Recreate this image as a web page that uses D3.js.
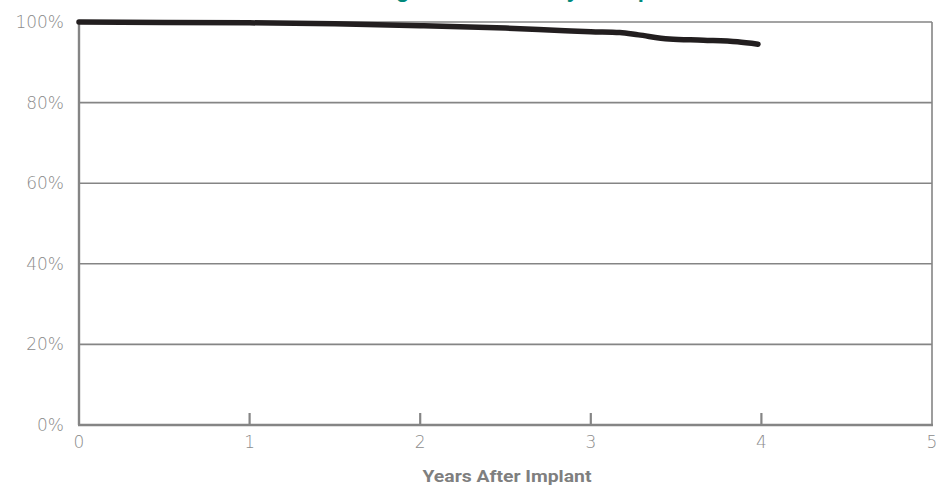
<!DOCTYPE html>
<html>
<head>
<meta charset="utf-8">
<script src="https://cdn.jsdelivr.net/npm/d3@7"></script>
<style>
  html, body { margin: 0; padding: 0; background: #ffffff; }
  svg { display: block; }
</style>
</head>
<body>
<svg id="chart" width="941" height="489"></svg>
<script>
// ---- Data ----
const titleText = "Long-Term Reliability of Implanted Leads";
const xTickValues = [0, 1, 2, 3, 4, 5];
const yTickValues = [0, 20, 40, 60, 80, 100];
const xAxisTitle = "Years After Implant";
const years = [0, 0.5, 1.0, 1.5, 2.0, 2.5, 2.85, 3.0, 3.17, 3.28, 3.46, 3.66, 3.86, 3.98];
const survival = [100, 99.9, 99.8, 99.55, 99.1, 98.5, 97.85, 97.6, 97.4, 96.8, 95.8, 95.5, 95.1, 94.5];

// ---- Layout ----
const svg = d3.select("#chart");
const plotLeft = 79, plotRight = 932, plotTop = 22, plotBottom = 425;
const x = d3.scaleLinear().domain([0, 5]).range([plotLeft, plotRight]);
const y = d3.scaleLinear().domain([0, 100]).range([plotBottom, plotTop]);

const axisColor = "#858585";
const labelColor = "#8c8c8c";
const labelFont = "'DejaVu Sans', 'Open Sans', sans-serif";

// Title (mostly cut off at the top of the frame, as in the reference)
const title = svg.append("text")
  .attr("x", 0).attr("y", -3.5)
  .attr("fill", "#00897b")
  .attr("font-family", "'Liberation Sans', Arial, sans-serif")
  .attr("font-weight", "bold")
  .attr("font-size", 22)
  .text(titleText);
const gx = title.node().getStartPositionOfChar(3).x;
title.attr("x", 396 - gx);

// Gridlines
svg.append("g").selectAll("line")
  .data(yTickValues.filter(d => d > 0))
  .join("line")
  .attr("x1", x(0)).attr("x2", x(5))
  .attr("y1", d => y(d)).attr("y2", d => y(d))
  .attr("stroke", axisColor)
  .attr("stroke-width", 1.6);

// Frame: left axis, bottom axis, right border
svg.append("line").attr("x1", x(0)).attr("x2", x(0)).attr("y1", y(100)).attr("y2", y(0))
  .attr("stroke", axisColor).attr("stroke-width", 2.4);
svg.append("line").attr("x1", x(0) - 1).attr("x2", x(5) + 1).attr("y1", y(0)).attr("y2", y(0))
  .attr("stroke", axisColor).attr("stroke-width", 2.4);
svg.append("line").attr("x1", x(5)).attr("x2", x(5)).attr("y1", y(100)).attr("y2", y(0))
  .attr("stroke", axisColor).attr("stroke-width", 1.6);

// X axis ticks (inward)
svg.append("g").selectAll("line")
  .data(xTickValues.filter(d => d > 0 && d < 5))
  .join("line")
  .attr("x1", d => x(d)).attr("x2", d => x(d))
  .attr("y1", y(0)).attr("y2", y(0) - 12)
  .attr("stroke", axisColor).attr("stroke-width", 2.2);

// X tick labels
svg.append("g").selectAll("text")
  .data(xTickValues)
  .join("text")
  .attr("x", d => x(d)).attr("y", 448)
  .attr("text-anchor", "middle")
  .attr("fill", labelColor)
  .attr("font-family", labelFont)
  .attr("font-weight", 200)
  .attr("font-size", 17)
  .text(d => d);

// Y tick labels
svg.append("g").selectAll("text")
  .data(yTickValues)
  .join("text")
  .attr("x", 64).attr("y", d => y(d) + 6)
  .attr("text-anchor", "end")
  .attr("fill", labelColor)
  .attr("font-family", labelFont)
  .attr("font-weight", 200)
  .attr("font-size", 17)
  .text(d => d + "%");

// X axis title
svg.append("text")
  .attr("x", 507).attr("y", 482)
  .attr("text-anchor", "middle")
  .attr("fill", "#7f7f7f")
  .attr("font-family", "'Liberation Sans Narrow', 'Roboto', sans-serif")
  .attr("font-weight", "bold")
  .attr("font-size", 16)
  .attr("textLength", 169)
  .attr("lengthAdjust", "spacingAndGlyphs")
  .text(xAxisTitle);

// Survival line
const line = d3.line()
  .x((d, i) => x(years[i]))
  .y(d => y(d))
  .curve(d3.curveMonotoneX);
svg.append("path")
  .datum(survival)
  .attr("d", line)
  .attr("fill", "none")
  .attr("stroke", "#221e1f")
  .attr("stroke-width", 5.5)
  .attr("stroke-linecap", "round")
  .attr("stroke-linejoin", "round");
</script>
</body>
</html>
